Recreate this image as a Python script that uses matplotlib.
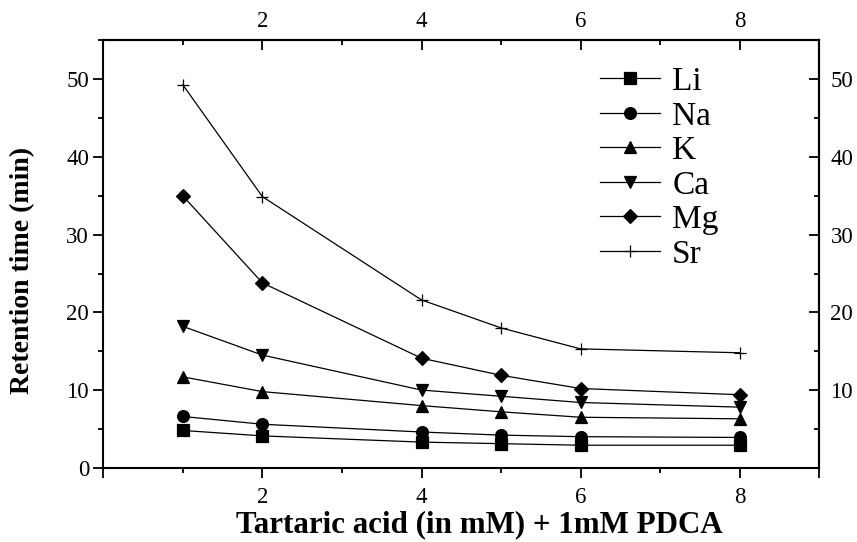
import matplotlib
matplotlib.use("Agg")
import matplotlib.pyplot as plt
from matplotlib.ticker import MultipleLocator, FixedLocator

plt.rcParams['font.family'] = ['Liberation Serif', 'DejaVu Serif']

# tartaric acid concentration (mM)
conc = [1, 2, 4, 5, 6, 8]

# retention times (min) for each cation
li = [4.8, 4.1, 3.3, 3.1, 2.9, 2.9]
na = [6.6, 5.6, 4.6, 4.2, 4.0, 3.9]
k = [11.7, 9.8, 8.0, 7.2, 6.5, 6.3]
ca = [18.2, 14.5, 10.0, 9.2, 8.4, 7.8]
mg = [35.0, 23.8, 14.1, 11.9, 10.2, 9.4]
sr = [49.3, 34.9, 21.6, 18.0, 15.3, 14.8]

series = [
    ('Li', li, 's', 8),
    ('Na', na, 'o', 8.5),
    ('K', k, '^', 9),
    ('Ca', ca, 'v', 9),
    ('Mg', mg, 'D', 7),
    ('Sr', sr, '+', 9),
]

MAJ, MIN, TW, FS = 7.2, 3.6, 1.3, 16.5

fig = plt.figure(figsize=(8.57, 5.42), dpi=100)
ax = fig.add_axes([0.1205, 0.137, 0.8355, 0.7883])

for name, vals, mk, ms in series:
    ax.plot(conc, vals, color='black', lw=0.9, marker=mk, ms=ms,
            mec='black', mfc='black', mew=0.9, label=name)

ax.set_xlim(0, 9)
ax.set_ylim(0, 55)

xmaj = [0, 2, 4, 6, 8, 9]
xlab = ['', '2', '4', '6', '8', '']
ax.xaxis.set_major_locator(FixedLocator(xmaj))
ax.xaxis.set_minor_locator(FixedLocator([1, 3, 5, 7]))
ax.set_xticklabels(xlab)
ax.yaxis.set_major_locator(MultipleLocator(10))
ax.yaxis.set_minor_locator(MultipleLocator(5))

ax.tick_params(axis='both', which='major', labelsize=FS, length=MAJ, width=TW,
               color='black')
ax.tick_params(axis='both', which='minor', length=MIN, width=TW)
ax.tick_params(axis='x', which='both', direction='out', top=False, pad=7)
ax.tick_params(axis='y', which='both', direction='out', right=False, pad=3)

# secondary axes on top and right, ticks pointing inward
top = ax.secondary_xaxis('top')
top.xaxis.set_major_locator(FixedLocator(xmaj))
top.xaxis.set_minor_locator(FixedLocator([1, 3, 5, 7]))
top.set_xticklabels(xlab)
top.tick_params(which='major', direction='in', length=MAJ, width=TW, labelsize=FS, pad=6)
top.tick_params(which='minor', direction='in', length=MIN, width=TW)

right = ax.secondary_yaxis('right')
right.set_yticks([10, 20, 30, 40, 50])
right.yaxis.set_minor_locator(MultipleLocator(5))
right.tick_params(which='major', direction='in', length=MAJ, width=TW, labelsize=FS, pad=8)
right.tick_params(which='minor', direction='in', length=MIN, width=TW)

for sp in ax.spines.values():
    sp.set_linewidth(1.5)
top.spines['top'].set_linewidth(1.5)
right.spines['right'].set_linewidth(1.5)

fig.text(479 / 857, 1 - 525 / 542, 'Tartaric acid (in mM) + 1mM PDCA',
         fontsize=22.3, fontweight='bold', ha='center', va='center')
fig.text(23 / 857, 1 - 270 / 542, 'Retention time (min)', rotation=90,
         fontsize=20, fontweight='bold', ha='center', va='center')

ax.legend(loc='upper left', bbox_to_anchor=(0.694, 0.939), frameon=False,
          fontsize=24, handlelength=1.8, handletextpad=0.36, labelspacing=0.12,
          borderaxespad=0, borderpad=0)

fig.savefig('out.png', dpi=100)
